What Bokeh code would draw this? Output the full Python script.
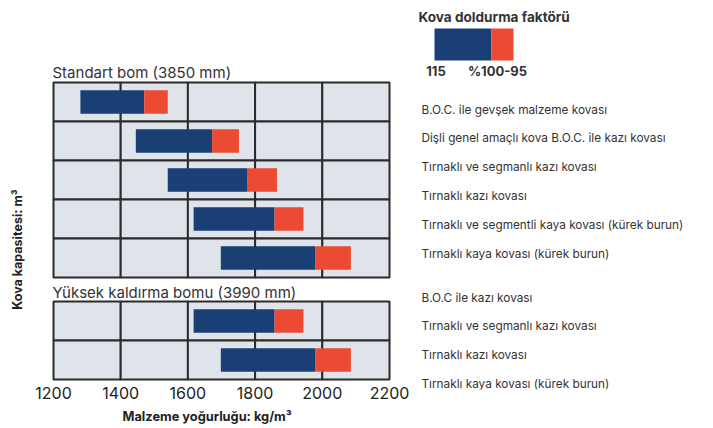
import math
from bokeh.plotting import figure
from bokeh.models import Range1d, FixedTicker, Label, Title
from bokeh.embed import file_html
from bokeh.resources import INLINE

# ---------------- data ----------------
x_ticks = [1200, 1400, 1600, 1800, 2000, 2200]

standart_title = "Standart bom (3850 mm)"
standart_start = [1280, 1445, 1540, 1617, 1698]
standart_mid = [1470, 1672, 1776, 1858, 1980]
standart_end = [1540, 1752, 1865, 1944, 2085]
standart_labels = [
    "B.O.C. ile gevşek malzeme kovası",
    "Dişli genel amaçlı kova B.O.C. ile kazı kovası",
    "Tırnaklı ve segmanlı kazı kovası",
    "Tırnaklı kazı kovası",
    "Tırnaklı ve segmentli kaya kovası (kürek burun)",
    "Tırnaklı kaya kovası (kürek burun)",
]

yuksek_title = "Yüksek kaldırma bomu (3990 mm)"
yuksek_start = [1617, 1698]
yuksek_mid = [1858, 1980]
yuksek_end = [1944, 2085]
yuksek_labels = [
    "B.O.C ile kazı kovası",
    "Tırnaklı ve segmanlı kazı kovası",
    "Tırnaklı kazı kovası",
    "Tırnaklı kaya kovası (kürek burun)",
]

legend_title = "Kova doldurma faktörü"
legend_labels = ["115", "%100-95"]
x_label = "Malzeme yoğurluğu: kg/m³"
y_label = "Kova kapasitesi: m³"

# ---------------- layout / style ----------------
W, H = 690, 428
PANEL_BOTTOM_PX = 379        # px of bottom edge of lower panel
FRAME_BOTTOM_PX = 389        # px of plot frame bottom
X0_PX, X1_PX = 53, 389       # px of 1200 / 2200
PX_PER_UNIT = (X1_PX - X0_PX) / (x_ticks[-1] - x_ticks[0])
ROW_PX = 39.0
GAP_ROWS = 24.0 / ROW_PX
BAR_H = 0.6

BLUE = "#1a3f75"
RED = "#ec4a32"
CELL = "#dfe4eb"
GRID = "#2b2b2b"
TXT = "#333333"
FONT = "Inter"


def rx(px):
    return x_ticks[0] + (px - X0_PX) / PX_PER_UNIT


def ry(px):
    return (PANEL_BOTTOM_PX - px) / ROW_PX


p = figure(width=W, height=H, output_backend="svg", toolbar_location=None,
           x_range=Range1d(rx(0), rx(W)),
           y_range=Range1d(ry(FRAME_BOTTOM_PX), ry(0)),
           y_axis_location=None,
           min_border_left=0, min_border_right=0, min_border_top=0,
           min_border_bottom=H - FRAME_BOTTOM_PX)
p.outline_line_color = None
p.xgrid.visible = False
p.ygrid.visible = False
p.background_fill_color = "white"
p.border_fill_color = "white"

ax = p.xaxis[0]
ax.ticker = FixedTicker(ticks=x_ticks)
ax.axis_line_color = None
ax.major_tick_line_color = None
ax.minor_tick_line_color = None
ax.major_tick_in = 0
ax.major_tick_out = 0
ax.major_label_standoff = -3
ax.major_label_text_font = FONT
ax.major_label_text_font_size = "16px"
ax.major_label_text_color = "#222222"

# x axis title (left-aligned below the axis, at the reference's position)
p.add_layout(Title(text=x_label, align="left", offset=122, standoff=10,
                   text_font=FONT, text_font_size="12.8px",
                   text_font_style="bold", text_color="#222222"), "below")


def draw_panel(base, starts, mids, ends):
    n = len(starts)
    l, r, b, t = [], [], [], []
    for i in range(n):
        for j in range(len(x_ticks) - 1):
            l.append(x_ticks[j]); r.append(x_ticks[j + 1])
            b.append(base + n - 1 - i); t.append(base + n - i)
    p.quad(left=l, right=r, bottom=b, top=t, fill_color=CELL,
           line_color=GRID, line_width=2)
    yc = [base + n - 1 - i + 0.5 for i in range(n)]
    p.quad(left=starts, right=mids, bottom=[y - BAR_H / 2 for y in yc],
           top=[y + BAR_H / 2 for y in yc], fill_color=BLUE, line_color=None)
    p.quad(left=mids, right=ends, bottom=[y - BAR_H / 2 for y in yc],
           top=[y + BAR_H / 2 for y in yc], fill_color=RED, line_color=None)


top_base = len(yuksek_start) + GAP_ROWS
draw_panel(0, yuksek_start, yuksek_mid, yuksek_end)
draw_panel(top_base, standart_start, standart_mid, standart_end)


def label(x, y, text, size, bold=False, align="left", angle=0.0, color=TXT):
    p.add_layout(Label(x=x, y=y, text=text, text_font=FONT,
                       text_font_size=size,
                       text_font_style="bold" if bold else "normal",
                       text_color=color, text_align=align,
                       text_baseline="middle", angle=angle))


# panel titles
label(rx(52), ry(72), standart_title, "15px")
label(rx(52), ry(292), yuksek_title, "15px")

# right-hand labels
for k, t in enumerate(standart_labels):
    label(rx(421), ry(109 + k * 28.8), t, "11.8px")
for k, t in enumerate(yuksek_labels):
    label(rx(421), ry(297 + k * 28.7), t, "11.8px")

# legend
label(rx(418), ry(16.5), legend_title, "13.6px", bold=True)
p.quad(left=[rx(434)], right=[rx(491)], bottom=[ry(60)], top=[ry(28)],
       fill_color=BLUE, line_color=None)
p.quad(left=[rx(491)], right=[rx(513)], bottom=[ry(60)], top=[ry(28)],
       fill_color=RED, line_color=None)
label(rx(435.5), ry(70.5), legend_labels[0], "13px", bold=True, align="center")
label(rx(497), ry(70.5), legend_labels[1], "13px", bold=True, align="center")

# y axis title
label(rx(17), ry(249), y_label, "12.5px", bold=True, align="center",
      angle=math.pi / 2, color="#222222")

open("out.html", "w").write(file_html(p, INLINE))
